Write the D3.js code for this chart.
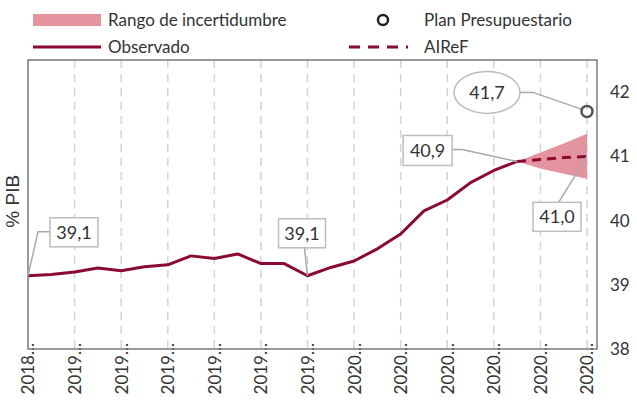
<!DOCTYPE html>
<html>
<head>
<meta charset="utf-8">
<script src="https://cdn.jsdelivr.net/npm/d3@7"></script>
<style>
    body { margin: 0; background: #fff; }
    #chart { width: 637px; height: 400px; }
    text { font-family: Lato, 'Open Sans', sans-serif; fill: #333; }
</style>
</head>
<body>
<div id="chart"></div>
<script>
//Colores fijos
const COLOR_LINEA = '#8a0a32',
COLOR_BANDA = '#e3949f',
COLOR_GRID = '#d4d4d4',
COLOR_BORDE = '#7a7a7a',
COLOR_CAJA = '#bdbdbd';

//Datos (mensuales, dic-2018 a dic-2020)
const meses = ['dic-18','ene-19','feb-19','mar-19','abr-19','may-19','jun-19','jul-19','ago-19','sep-19','oct-19','nov-19','dic-19',
    'ene-20','feb-20','mar-20','abr-20','may-20','jun-20','jul-20','ago-20','sep-20','oct-20','nov-20','dic-20'];
const etiquetasEje = ['2018...','2019...','2019...','2019...','2019...','2019...','2019...','2020...','2020...','2020...','2020...','2020...','2020...'];
const observado = [39.14, 39.16, 39.20, 39.26, 39.22, 39.28, 39.31, 39.45, 39.41, 39.48, 39.33, 39.33, 39.14,
    39.27, 39.37, 39.56, 39.79, 40.15, 40.32, 40.59, 40.78, 40.92];
const mesesAiref = ['sep-20','oct-20','nov-20','dic-20'];
const airef = [40.92, 40.95, 40.98, 41.0];
const bandaInf = [40.92, 40.81, 40.73, 40.65];
const bandaSup = [40.92, 41.06, 41.20, 41.35];
const planPresupuestario = [{ mes: 'dic-20', valor: 41.7 }];
const ticksY = [38, 39, 40, 41, 42];

function fmt(v) { return v.toFixed(1).replace('.', ','); }

let margin = {top: 60, right: 40, bottom: 51, left: 28},
    width = 637 - margin.left - margin.right,
    height = 400 - margin.top - margin.bottom;

let svgRoot = d3.select('#chart')
    .append('svg')
    .attr('width', 637)
    .attr('height', 400);

let svg = svgRoot.append('g')
    .attr('transform', 'translate(' + margin.left + ',' + margin.top + ')');

//Escalas
let x = d3.scalePoint()
    .domain(meses)
    .range([0, width - 10]);

let y = d3.scaleLinear()
    .domain([38, 42.5])
    .range([height, 0]);

//Rejilla vertical (cada dos meses)
let mesesTick = meses.filter(function(d, i) { return i % 2 == 0; });

svg.append('g')
    .selectAll('line')
    .data(mesesTick.slice(1))
    .enter()
    .append('line')
    .attr('x1', function(d) { return x(d); })
    .attr('x2', function(d) { return x(d); })
    .attr('y1', 0)
    .attr('y2', height)
    .attr('stroke', COLOR_GRID)
    .attr('stroke-width', 1.5)
    .attr('stroke-dasharray', '8,6');

//Eje X
let xAxis = d3.axisBottom(x)
    .tickValues(mesesTick)
    .tickSize(0)
    .tickFormat(function(d, i) { return etiquetasEje[i]; });

svg.append('g')
    .attr('transform', 'translate(0,' + height + ')')
    .call(xAxis)
    .call(function(g) { g.select('.domain').remove(); })
    .selectAll('text')
    .attr('font-size', '17px')
    .attr('fill', '#333')
    .attr('text-anchor', 'end')
    .attr('transform', 'rotate(-90)')
    .attr('x', 6)
    .attr('y', 0)
    .attr('dy', '0.35em');

//Eje Y (derecha)
let yAxis = d3.axisRight(y)
    .tickValues(ticksY)
    .tickSize(0)
    .tickPadding(13)
    .tickFormat(d3.format('d'));

svg.append('g')
    .attr('transform', 'translate(' + width + ',0)')
    .call(yAxis)
    .call(function(g) { g.select('.domain').remove(); })
    .selectAll('text')
    .attr('font-size', '17px')
    .attr('fill', '#333');

//Titulo eje
svgRoot.append('text')
    .attr('transform', 'translate(19,' + (margin.top + y(40.3)) + ') rotate(-90)')
    .attr('text-anchor', 'middle')
    .style('font-family', "'Liberation Sans', Arial, sans-serif")
    .attr('font-size', '19px')
    .text('% PIB');

//Banda de incertidumbre
let area = d3.area()
    .x(function(d, i) { return x(mesesAiref[i]); })
    .y0(function(d, i) { return y(bandaInf[i]); })
    .y1(function(d, i) { return y(bandaSup[i]); });

svg.append('path')
    .datum(mesesAiref)
    .attr('d', area)
    .attr('fill', COLOR_BANDA);

//Lineas
let lineObs = d3.line()
    .x(function(d, i) { return x(meses[i]); })
    .y(function(d) { return y(d); });

svg.append('path')
    .datum(observado)
    .attr('d', lineObs)
    .attr('fill', 'none')
    .attr('stroke', COLOR_LINEA)
    .attr('stroke-width', 3)
    .attr('stroke-linejoin', 'round');

let lineAiref = d3.line()
    .x(function(d, i) { return x(mesesAiref[i]); })
    .y(function(d) { return y(d); });

svg.append('path')
    .datum(airef)
    .attr('d', lineAiref)
    .attr('fill', 'none')
    .attr('stroke', COLOR_LINEA)
    .attr('stroke-width', 3)
    .attr('stroke-dasharray', '9,6');

//Borde del grafico
svg.append('rect')
    .attr('x', 0)
    .attr('y', 0)
    .attr('width', width)
    .attr('height', height)
    .attr('fill', 'none')
    .attr('stroke', COLOR_BORDE)
    .attr('stroke-width', 1.5);

//Anotaciones
function caja(px, py, bx, by, w, h, ruta, texto, elipse) {
    svg.append('polyline')
        .attr('points', ruta.map(function(p) { return (px + p[0]) + ',' + (py + p[1]); }).join(' '))
        .attr('fill', 'none')
        .attr('stroke', '#a9a9a9')
        .attr('stroke-width', 1.5);
    if (elipse) {
        svg.append('ellipse')
            .attr('cx', px + bx + w / 2)
            .attr('cy', py + by + h / 2)
            .attr('rx', w / 2)
            .attr('ry', h / 2)
            .attr('fill', '#fff')
            .attr('stroke', COLOR_CAJA)
            .attr('stroke-width', 1.5);
    } else {
        svg.append('rect')
            .attr('x', px + bx)
            .attr('y', py + by)
            .attr('width', w)
            .attr('height', h)
            .attr('fill', '#fff')
            .attr('stroke', COLOR_CAJA)
            .attr('stroke-width', 1.5);
    }
    svg.append('text')
        .attr('x', px + bx + w / 2)
        .attr('y', py + by + h / 2)
        .attr('dy', '0.36em')
        .attr('text-anchor', 'middle')
        .attr('font-size', '18px')
        .text(texto);
}

let p0 = [x(meses[0]), y(observado[0])];
caja(p0[0], p0[1], 22, -58, 48, 29, [[0, 0], [10, -44], [22, -44]], fmt(observado[0]));

let p12 = [x(meses[12]), y(observado[12])];
caja(p12[0], p12[1], -29, -57, 47, 29, [[0, 0], [-3, -28]], fmt(observado[12]));

let pUlt = [x(meses[observado.length - 1]), y(observado[observado.length - 1])];
caja(pUlt[0], pUlt[1], -114, -26, 49, 30, [[0, 0], [-55, -12], [-65, -12]], fmt(observado[observado.length - 1]));

let pAi = [x(mesesAiref[3]), y(airef[3])];
caja(pAi[0], pAi[1], -54, 46, 48, 29, [[0, 0], [-29, 47]], fmt(airef[3]));

let pPlan = [x(planPresupuestario[0].mes), y(planPresupuestario[0].valor)];
caja(pPlan[0], pPlan[1], -133, -40, 66, 42, [[-5, -2], [-54, -19], [-67, -19]], fmt(planPresupuestario[0].valor), true);

svg.selectAll('.plan')
    .data(planPresupuestario)
    .enter()
    .append('circle')
    .attr('class', 'plan')
    .attr('cx', function(d) { return x(d.mes); })
    .attr('cy', function(d) { return y(d.valor); })
    .attr('r', 5.5)
    .attr('fill', 'none')
    .attr('stroke', '#555')
    .attr('stroke-width', 2.5);

//Leyenda
let ley = svgRoot.append('g');

ley.append('rect')
    .attr('x', 33).attr('y', 14).attr('width', 68).attr('height', 12)
    .attr('fill', COLOR_BANDA);
ley.append('line')
    .attr('x1', 33).attr('x2', 101).attr('y1', 47).attr('y2', 47)
    .attr('stroke', COLOR_LINEA).attr('stroke-width', 3);
ley.append('circle')
    .attr('cx', 383).attr('cy', 20).attr('r', 5)
    .attr('fill', 'none').attr('stroke', '#222').attr('stroke-width', 2.5);
ley.append('line')
    .attr('x1', 349).attr('x2', 408).attr('y1', 47).attr('y2', 47)
    .attr('stroke', COLOR_LINEA).attr('stroke-width', 3)
    .attr('stroke-dasharray', '11,8');

let textosLey = [
    { t: 'Rango de incertidumbre', x: 108, y: 20 },
    { t: 'Observado', x: 108, y: 47 },
    { t: 'Plan Presupuestario', x: 424, y: 20 },
    { t: 'AIReF', x: 424, y: 47 }
];

ley.selectAll('.ley-text')
    .data(textosLey)
    .enter()
    .append('text')
    .attr('x', function(d) { return d.x; })
    .attr('y', function(d) { return d.y; })
    .attr('dy', '0.35em')
    .attr('font-size', '17px')
    .text(function(d) { return d.t; });
</script>
</body>
</html>
